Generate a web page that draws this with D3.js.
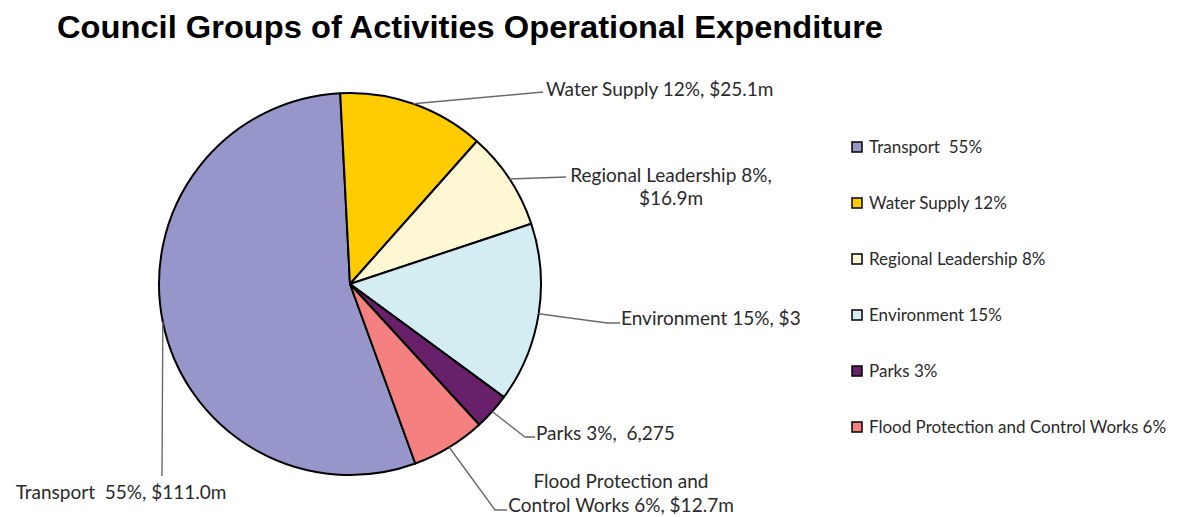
<!DOCTYPE html>
<html>
<head>
<meta charset="utf-8">
<script src="https://cdn.jsdelivr.net/npm/d3@7"></script>
<style>
  html, body { margin: 0; padding: 0; background: #fff; }
  svg { display: block; }
</style>
</head>
<body>
<svg id="chart" width="1179" height="517"></svg>
<script>
// Operational expenditure by group of activities ($m)
const categories = ["Transport", "Water Supply", "Regional Leadership", "Environment", "Parks", "Flood Protection and Control Works"];
const expenditure = [111.0, 25.1, 16.9, 30.8, 6.275, 12.7];
const percentLabels = ["55%", "12%", "8%", "15%", "3%", "6%"];
const legendLabels = ["Transport  55%", "Water Supply 12%", "Regional Leadership 8%", "Environment 15%", "Parks 3%", "Flood Protection and Control Works 6%"];
const dataLabels = [
  ["Transport  55%, $111.0m"],
  ["Water Supply 12%, $25.1m"],
  ["Regional Leadership 8%,", "$16.9m"],
  ["Environment 15%, $3"],
  ["Parks 3%,  6,275"],
  ["Flood Protection and", "Control Works 6%, $12.7m"]
];
const colors = ["#9696ca", "#ffcc00", "#fdf8d3", "#d4edf3", "#69206b", "#f48080"];

const svg = d3.select("#chart");
const cx = 350, cy = 284, R = 191;
const labelFont = "Lato, 'Open Sans', sans-serif";

// Title
svg.append("text")
  .attr("x", 57).attr("y", 38)
  .attr("font-family", "'Liberation Sans', Arial, sans-serif")
  .attr("font-weight", "bold")
  .attr("font-size", 31)
  .attr("textLength", 826)
  .attr("lengthAdjust", "spacingAndGlyphs")
  .attr("fill", "#000")
  .text("Council Groups of Activities Operational Expenditure");

// Pie: first slice (Transport) begins at 160° and runs clockwise
const toRad = d => d * Math.PI / 180;
const pie = d3.pie().sort(null).value(d => d.value)
  .startAngle(toRad(160)).endAngle(toRad(520));
const rows = categories.map((c, i) => ({ name: c, value: expenditure[i], color: colors[i], label: dataLabels[i] }));
const arcs = pie(rows);
const arc = d3.arc().innerRadius(0).outerRadius(R);

const g = svg.append("g").attr("transform", `translate(${cx},${cy})`);
g.selectAll("path.slice").data(arcs).join("path")
  .attr("class", "slice")
  .attr("d", arc)
  .attr("fill", d => d.data.color)
  .attr("stroke", "#000")
  .attr("stroke-width", 2)
  .attr("stroke-linejoin", "round");

// Leader line elbows and label anchors (absolute page coords)
const labelLayout = [
  { pts: [[162, 476]], x: 121, y: 499, anchor: "middle" },
  { pts: [[543, 92]], x: 546, y: 96, anchor: "start" },
  { pts: [[566, 177]], x: 671, y: 182, anchor: "middle", dy: 23 },
  { pts: [[607, 323], [620, 323]], x: 621, y: 325, anchor: "start" },
  { pts: [[525, 437], [535, 437]], x: 536, y: 440, anchor: "start" },
  { pts: [[495, 510], [507, 510]], x: 621, y: 488, anchor: "middle", dy: 24 }
];

arcs.forEach((a, i) => {
  const mid = (a.startAngle + a.endAngle) / 2;
  const sx = cx + R * Math.sin(mid), sy = cy - R * Math.cos(mid);
  const L = labelLayout[i];
  const pts = [[sx, sy], ...L.pts];
  svg.append("path")
    .attr("d", d3.line()(pts))
    .attr("fill", "none")
    .attr("stroke", "#6a6a6a")
    .attr("stroke-width", 1.4);
  const t = svg.append("text")
    .attr("font-family", labelFont)
    .attr("font-size", 19)
    .attr("fill", "#2a2a2a")
    .attr("text-anchor", L.anchor)
    .style("white-space", "pre");
  a.data.label.forEach((line, k) => {
    t.append("tspan").attr("x", L.x).attr("y", L.y + k * (L.dy || 0)).text(line);
  });
});

// Legend
const legend = svg.append("g").attr("transform", "translate(852,147)");
const item = legend.selectAll("g").data(rows).join("g")
  .attr("transform", (d, i) => `translate(0,${i * 56})`);
item.append("rect")
  .attr("x", 0).attr("y", -5).attr("width", 10).attr("height", 10)
  .attr("fill", d => d.color)
  .attr("stroke", "#000").attr("stroke-width", 1.5);
item.append("text")
  .attr("x", 17).attr("y", 6)
  .attr("font-family", labelFont)
  .attr("font-size", 17)
  .attr("fill", "#2a2a2a")
  .style("white-space", "pre")
  .text((d, i) => legendLabels[i]);
</script>
</body>
</html>
